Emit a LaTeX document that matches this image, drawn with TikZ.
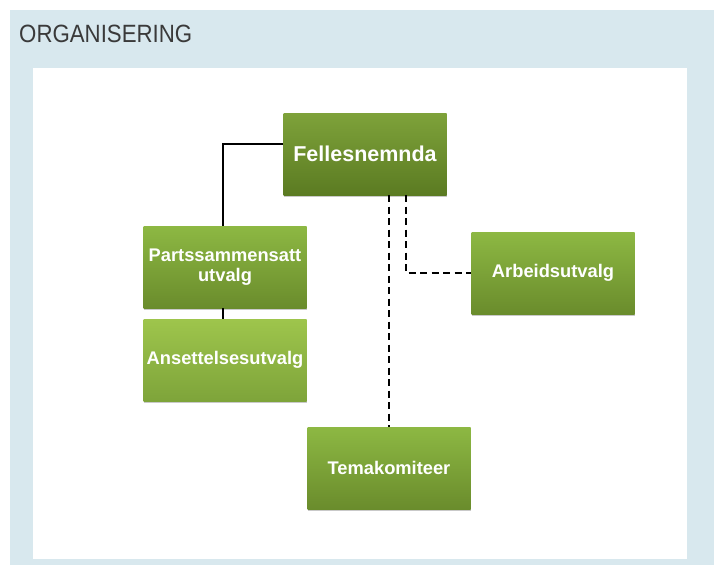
\documentclass[tikz,border=0pt]{standalone}
\usepackage{fontspec}
\setmainfont{Liberation Sans}
\usetikzlibrary{shadows}
\definecolor{bgblue}{HTML}{D8E8EE}
\definecolor{titlegray}{HTML}{3A3A3A}
\definecolor{gtop}{HTML}{8DB843}
\definecolor{gbot}{HTML}{6A8C2C}
\definecolor{dtop}{HTML}{7EA23A}
\definecolor{dbot}{HTML}{5B7B22}
\definecolor{ltop}{HTML}{9EC54C}
\definecolor{lbot}{HTML}{7EA43A}
\tikzset{
  orgbox/.style={rectangle, minimum width=163pt, minimum height=82pt, inner sep=0pt,
    top color=gtop, bottom color=gbot, draw=none, text=white, align=center,
    font=\fontsize{18.3}{20}\selectfont\bfseries,
    drop shadow={shadow xshift=0pt, shadow yshift=-2pt, opacity=0.35, fill=black!60}},
  darkbox/.style={orgbox, top color=dtop, bottom color=dbot, font=\fontsize{21.5}{24}\selectfont\bfseries},
  lightbox/.style={orgbox, top color=ltop, bottom color=lbot},
  solidlink/.style={draw=black, line width=2pt},
  dashlink/.style={draw=black, line width=2.2pt, dash pattern=on 7pt off 4.5pt}
}
\begin{document}
\begin{tikzpicture}[x=1pt, y=-1pt]
\useasboundingbox (0,0) rectangle (714,565);
\fill[white] (0,0) rectangle (714,565);
\fill[bgblue] (10,10) rectangle (714,565);
\fill[white] (33,68) rectangle (687,559);
\node[anchor=west, text=titlegray, inner sep=0pt] (title) at (19,34)
  {\scalebox{0.89}[1]{\fontsize{25}{28}\selectfont ORGANISERING}};

\node[darkbox] (felles) at (365,154) {Fellesnemnda};
\node[orgbox] (parts) at (225,267) {Partssammensatt\\utvalg};
\node[lightbox] (ansett) at (225,360) {Ansettelsesutvalg};
\node[orgbox] (arbeid) at (553,273) {Arbeidsutvalg};
\node[orgbox] (tema) at (389,468) {Temakomiteer};

\coordinate (c1) at (223,144);
\draw[solidlink] (felles.west |- c1) -- (c1) -- (c1 |- parts.north);
\draw[solidlink] (parts.south -| c1) -- (ansett.north -| c1);
\coordinate (d1) at (389,0);
\coordinate (d2) at (406,273);
\draw[dashlink] (felles.south -| d1) -- (tema.north -| d1);
\draw[dashlink] (felles.south -| d2) -- (d2) -- (arbeid.west |- d2);
\end{tikzpicture}
\end{document}
